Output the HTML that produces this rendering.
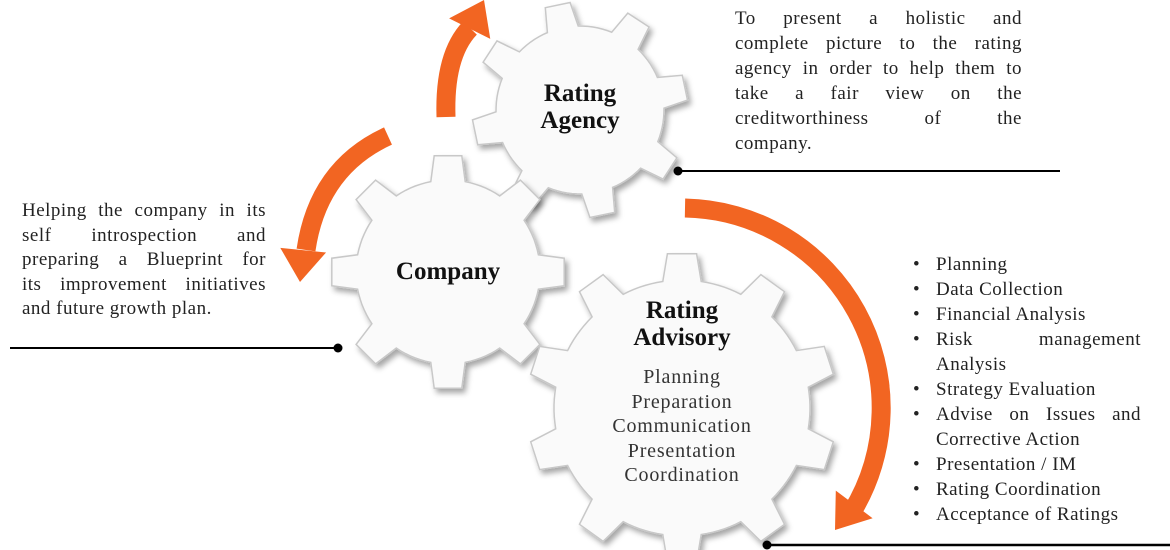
<!DOCTYPE html>
<html><head><meta charset="utf-8"><style>
body{margin:0;width:1170px;height:550px;background:#fff;position:relative;overflow:hidden;font-family:"Liberation Serif",serif;color:#222}
.t{position:absolute;font-size:19px;line-height:24.5px;letter-spacing:0.5px}
.t div{text-align:justify;text-align-last:justify;white-space:nowrap}
.t div.l{text-align-last:left}
.c{position:absolute;text-align:center;font-weight:bold;font-size:25px;line-height:27px;color:#111}
.b{position:relative;padding-left:23px}
.b:before{content:"•";position:absolute;left:0}
svg{position:absolute;left:0;top:0}
</style></head><body>
<svg id="s" width="1170" height="550">
<defs><filter id="sh" x="-20%" y="-20%" width="140%" height="140%"><feDropShadow dx="3" dy="4" stdDeviation="3" flood-color="#000" flood-opacity="0.35"/></filter></defs>
<g id="g"></g>
<line x1="10" y1="348" x2="338" y2="348" stroke="#000" stroke-width="2"/><circle cx="338" cy="348" r="4.5"/>
<line x1="678" y1="171" x2="1060" y2="171" stroke="#000" stroke-width="2"/><circle cx="678" cy="171" r="4.5"/>
<line x1="767" y1="545" x2="1170" y2="545" stroke="#000" stroke-width="2.5"/><circle cx="767" cy="545" r="4.5"/>
</svg>
<div class="c" style="left:480px;top:80px;width:200px">Rating<br>Agency</div>
<div class="c" style="left:348px;top:258px;width:200px">Company</div>
<div class="c" style="left:582px;top:297px;width:200px">Rating<br>Advisory</div>
<div class="c" style="left:562px;top:365px;width:240px;font-weight:normal;font-size:20px;line-height:24.5px;letter-spacing:0.8px;color:#333">Planning<br>Preparation<br>Communication<br>Presentation<br>Coordination</div>
<div class="t" style="left:22px;top:199px;width:244px">
<div>Helping the company in its</div><div>self introspection and</div><div>preparing a Blueprint for</div><div>its improvement initiatives</div><div class="l">and future growth plan.</div></div>
<div class="t" style="left:735px;top:6px;width:287px;line-height:25px">
<div>To present a holistic and</div><div>complete picture to the rating</div><div>agency in order to help them to</div><div>take a fair view on the</div><div>creditworthiness of the</div><div class="l">company.</div></div>
<div class="t" style="left:913px;top:252px;width:228px;line-height:25px">
<div class="b l">Planning</div><div class="b l">Data Collection</div><div class="b l">Financial Analysis</div><div class="b">Risk management</div><div class="l" style="padding-left:23px">Analysis</div><div class="b l">Strategy Evaluation</div><div class="b">Advise on Issues and</div><div class="l" style="padding-left:23px">Corrective Action</div><div class="b l">Presentation / IM</div><div class="b l">Rating Coordination</div><div class="b l">Acceptance of Ratings</div></div>
<script>
var NS="http://www.w3.org/2000/svg",g=document.getElementById("g");
function gear(cx,cy,ro,ri,n,rot){var p=[],pitch=2*Math.PI/n,w1=pitch*0.24,w2=pitch*0.15;
for(var i=0;i<n;i++){var a=rot*Math.PI/180-Math.PI/2+i*pitch;
var pts=[[ri,a-w1],[ro,a-w2],[ro,a+w2],[ri,a+w1]];
for(var k=1;k<=6;k++)pts.push([ri,a+w1+(pitch-2*w1)*k/7]);
pts.forEach(function(q){p.push((cx+q[0]*Math.cos(q[1])).toFixed(1)+","+(cy+q[0]*Math.sin(q[1])).toFixed(1))});}
var e=document.createElementNS(NS,"polygon");e.setAttribute("points",p.join(" "));e.setAttribute("fill","#fafafa");e.setAttribute("stroke","#c8c8c8");e.setAttribute("stroke-width","1.5");e.setAttribute("filter","url(#sh)");g.appendChild(e);}
function el(t,a){var e=document.createElementNS(NS,t);for(var k in a)e.setAttribute(k,a[k]);g.appendChild(e);}
function arrow(d,tip,dir){el("path",{d:d,fill:"none",stroke:"#f26522","stroke-width":19});
var dx=dir[0],dy=dir[1],L=Math.hypot(dx,dy);dx/=L;dy/=L;var bx=tip[0]-dx*32,by=tip[1]-dy*32;
el("polygon",{points:tip[0]+","+tip[1]+" "+(bx-dy*23)+","+(by+dx*23)+" "+(bx+dy*23)+","+(by-dx*23),fill:"#f26522"});}
gear(580,110,108,84,8,-12);
gear(448,272,117,92,8,0);
gear(682,408,155,128,10,0);
arrow("M446,117 Q444,55 470,28",[484,0],[0.5,-1]);
arrow("M388,136 Q318,168 306,250",[300,282],[-0.1,1]);
arrow("M685,208 A200 200 0 0 1 852,512",[835,530],[-0.6,0.8]);
</script>
</body></html>
